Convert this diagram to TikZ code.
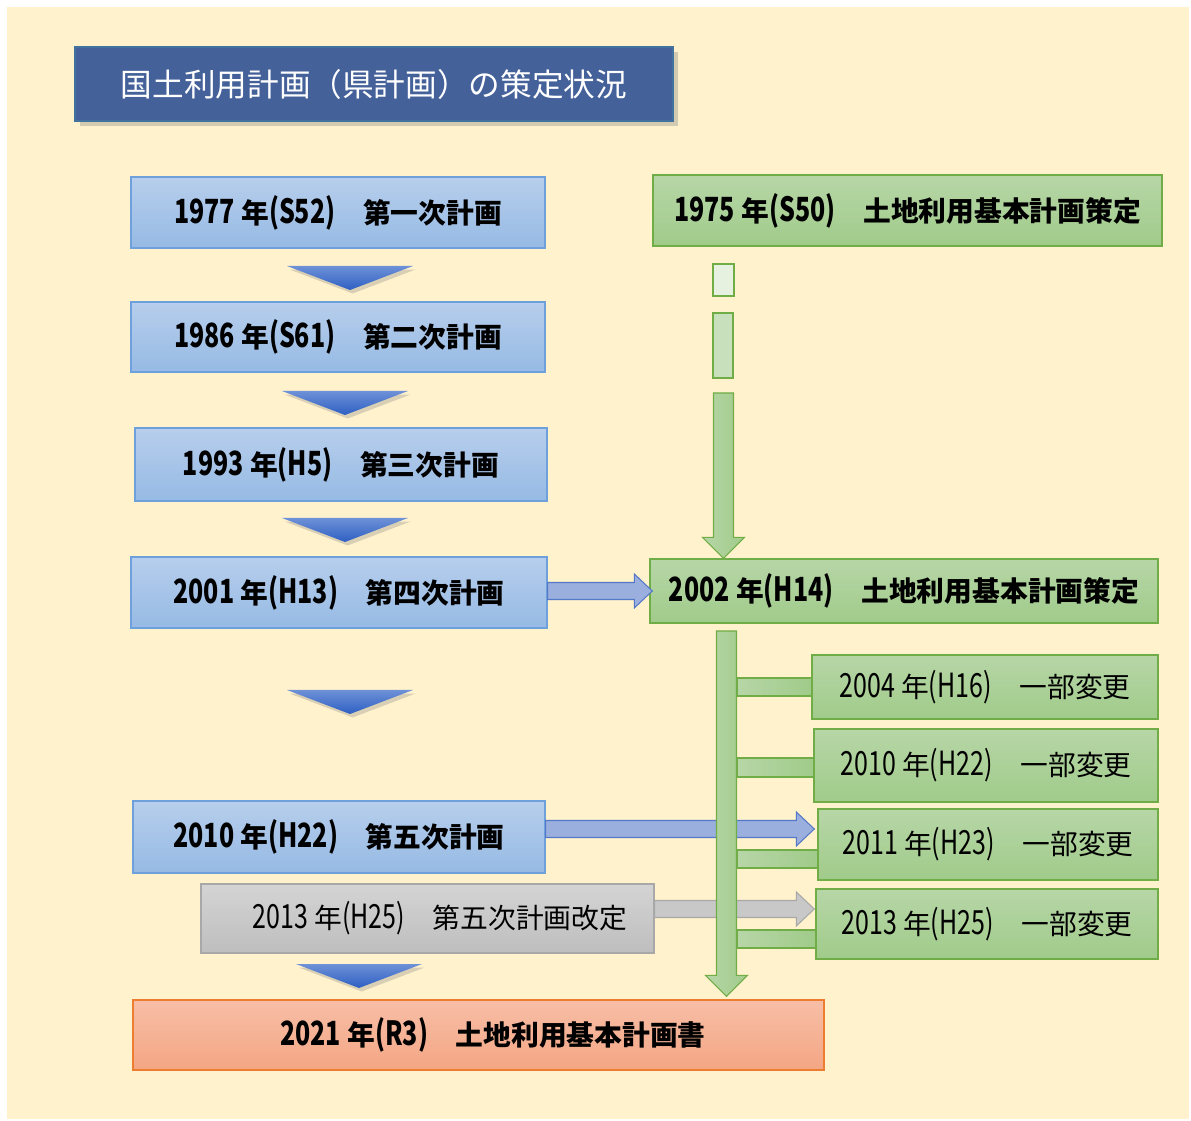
\documentclass[tikz,border=0pt]{standalone}
\usepackage{fontspec}
\usetikzlibrary{calc,shadows}

\newfontfamily\jp{Noto Sans CJK JP}
\newfontfamily\jpnum[FakeStretch=0.75,Scale=1.2]{Noto Sans CJK JP}
\newcommand{\yr}[2]{{\jpnum #1} 年{\jpnum(#2)}}

\definecolor{bgyellow}{RGB}{255,242,204}
\definecolor{titleblue}{RGB}{68,97,154}
\definecolor{titleline}{RGB}{65,113,156}
\definecolor{blueTop}{RGB}{183,206,236}
\definecolor{blueBot}{RGB}{150,186,228}
\definecolor{blueLine}{RGB}{110,160,220}
\definecolor{greenTop}{RGB}{183,214,167}
\definecolor{greenBot}{RGB}{160,203,138}
\definecolor{greenLine}{RGB}{112,173,71}
\definecolor{grayTop}{RGB}{212,212,212}
\definecolor{grayBot}{RGB}{190,190,190}
\definecolor{grayLine}{RGB}{168,168,168}
\definecolor{redTop}{RGB}{247,190,166}
\definecolor{redBot}{RGB}{244,166,132}
\definecolor{redLine}{RGB}{237,125,49}
\definecolor{arrowBlue}{RGB}{155,175,222}
\definecolor{arrowLine}{RGB}{84,120,200}
\definecolor{arrowGray}{RGB}{200,200,200}
\definecolor{chevTop}{RGB}{110,145,215}
\definecolor{chevBot}{RGB}{45,95,195}

\def\pxu{0.02cm}

% block arrows, lengths in px
\newcommand{\blockright}[3]{%
  \path[#1] let \p1=#2, \p2=#3 in
    (\x1,{\y2+8.5*\pxu}) -- ({\x2-18*\pxu},{\y2+8.5*\pxu}) -- ({\x2-18*\pxu},{\y2+17*\pxu})
    -- (\x2,\y2) -- ({\x2-18*\pxu},{\y2-17*\pxu}) -- ({\x2-18*\pxu},{\y2-8.5*\pxu})
    -- (\x1,{\y2-8.5*\pxu}) -- cycle;}
\newcommand{\blockdown}[3]{%
  \path[#1] let \p1=#2, \p2=#3 in
    ({\x1-10*\pxu},\y1) -- ({\x1-10*\pxu},{\y2+21*\pxu}) -- ({\x1-21*\pxu},{\y2+21*\pxu})
    -- (\x1,\y2) -- ({\x1+21*\pxu},{\y2+21*\pxu}) -- ({\x1+10*\pxu},{\y2+21*\pxu})
    -- ({\x1+10*\pxu},\y1) -- cycle;}
\newcommand{\chevron}[1]{%
  \path[chev] (#1) ++(-63,0) -- ++(126,0) -- ++(-63,24) -- cycle;}

\begin{document}
\begin{tikzpicture}[x=0.02cm,y=-0.02cm,
  size/.style 2 args={minimum width=#1*\pxu,minimum height=#2*\pxu},
  card/.style={line width=0.8pt,inner sep=0pt,font=\fontsize{15.8}{18}\selectfont\jp},
  plan/.style={card,draw=blueLine,top color=blueTop,bottom color=blueBot,font=\fontsize{15.8}{18}\selectfont\jp\bfseries},
  base/.style={card,draw=greenLine,top color=greenTop,bottom color=greenBot,font=\fontsize{15.8}{18}\selectfont\jp\bfseries},
  change/.style={card,draw=greenLine,top color=greenTop,bottom color=greenBot},
  revise/.style={card,draw=grayLine,top color=grayTop,bottom color=grayBot},
  final/.style={card,draw=redLine,top color=redTop,bottom color=redBot,font=\fontsize{15.8}{18}\selectfont\jp\bfseries},
  titlebox/.style={draw=titleline,fill=titleblue,line width=0.8pt,text=white,
    font=\fontsize{18}{22}\selectfont\jp,
    drop shadow={shadow xshift=3pt,shadow yshift=-3pt,opacity=0.35}},
  chev/.style={top color=chevTop,bottom color=chevBot,
    drop shadow={shadow xshift=1.5pt,shadow yshift=-2pt,opacity=0.3}},
  bluearrow/.style={draw=arrowLine,fill=arrowBlue,line width=0.6pt},
  grayarrow/.style={draw=grayLine,fill=arrowGray,line width=0.6pt},
  greenbar/.style={draw=greenLine,left color=greenTop,right color=greenBot,line width=0.6pt}]

\useasboundingbox (0,0) rectangle (1191,1121);
\fill[white] (0,0) rectangle (1191,1121);
\fill[bgyellow] (7,7) rectangle (1189,1119);

\node[titlebox,size={598}{74}] (title) at (374,84) {国土利用計画（県計画）の策定状況};

% prefecture plans
\node[plan,size={414}{71}] (p1977) at (338,212.5) {\yr{1977}{S52}　第一次計画};
\node[plan,size={414}{70}] (p1986) at (338,337) {\yr{1986}{S61}　第二次計画};
\node[plan,size={412}{73}] (p1993) at (341,464.5) {\yr{1993}{H5}　第三次計画};
\node[plan,size={416}{71}] (p2001) at (339,592.5) {\yr{2001}{H13}　第四次計画};
\node[plan,size={412}{72}] (p2010) at (339,837) {\yr{2010}{H22}　第五次計画};
\node[revise,size={453}{69}] (p2013) at (427.5,918.5) {\hspace*{0.5cm}\yr{2013}{H25}　第五次計画改定};
\node[final,size={691}{70}] (p2021) at (478.5,1035) {\hspace*{0.58cm}\yr{2021}{R3}　土地利用基本計画書};

% basic land use plans
\node[base,size={509}{71}] (b1975) at (907.5,210.5) {\yr{1975}{S50}　土地利用基本計画策定};
\node[base,size={508}{64}] (b2002) at (904,591) {\yr{2002}{H14}　土地利用基本計画策定};
\node[change,size={346}{64}] (b2004) at (985,687) {\yr{2004}{H16}　一部変更};
\node[change,size={344}{73}] (b2010) at (986,765.5) {\yr{2010}{H22}　一部変更};
\node[change,size={340}{71}] (b2011) at (988,844.5) {\yr{2011}{H23}　一部変更};
\node[change,size={342}{70}] (b2013) at (987,924) {\yr{2013}{H25}　一部変更};

% chevrons
\coordinate (c1) at (350,266);
\coordinate (c2) at (345,391);
\coordinate (c3) at (345,518);
\coordinate (c4) at (350,690);
\coordinate (c5) at (359,964);
\foreach \c in {c1,c2,c3,c4,c5} {\chevron{\c}}

% horizontal arrows
\blockright{bluearrow}{(p2001.east)}{([xshift=3*\pxu]b2002.west)}
\blockright{bluearrow}{(p2010.east)}{([xshift=-3*\pxu,yshift=15.5*\pxu]b2011.west)}
\blockright{grayarrow}{(p2013.east)}{([xshift=-1*\pxu,yshift=15*\pxu]b2013.west)}

% 1975 -> 2002
\draw[draw=greenLine,fill=greenTop!35,line width=0.6pt] (713,264) rectangle (734,296);
\draw[draw=greenLine,fill=greenTop!75,line width=0.6pt] (713,313) rectangle (733,378);
\coordinate (v1) at (723.5,393);
\blockdown{greenbar}{(v1)}{(v1 |- b2002.north)}

% 2002 -> 2021
\coordinate (v2) at (726.5,631);
\blockdown{greenbar}{(v2)}{([yshift=3*\pxu]v2 |- p2021.north)}
\draw[greenbar] (737,678) rectangle (b2004.west |- 0,696);
\draw[greenbar] (737,758) rectangle (b2010.west |- 0,777);
\draw[greenbar] (737,850) rectangle (b2011.west |- 0,868);
\draw[greenbar] (737,930) rectangle (b2013.west |- 0,948);

\end{tikzpicture}
\end{document}
